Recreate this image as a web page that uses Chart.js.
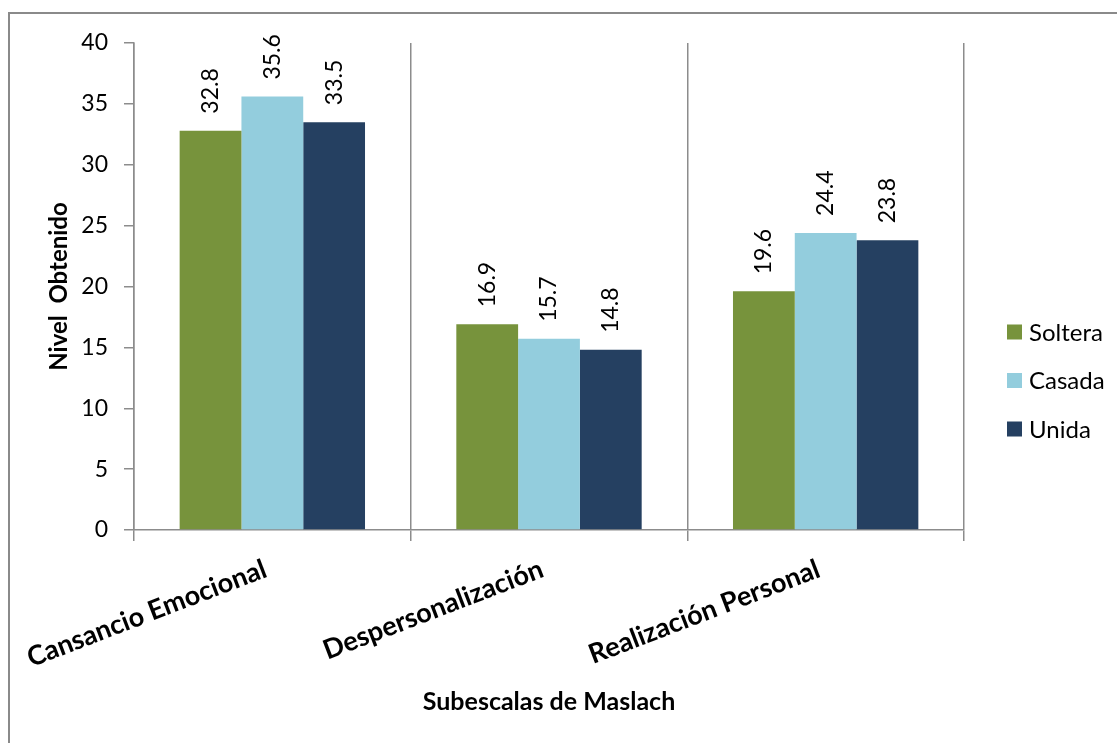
<!DOCTYPE html>
<html>
<head>
<meta charset="utf-8">
<title>Subescalas de Maslach</title>
<script src="https://cdn.jsdelivr.net/npm/chart.js@4.4.1/dist/chart.umd.min.js"></script>
<style>
  html, body { margin: 0; padding: 0; background: #fff; }
  #wrap { position: relative; width: 1117px; height: 743px; overflow: hidden; }
  /* chart frame: only the top and left edges fall inside the page */
  #frame {
    position: absolute; left: 8px; top: 12px; width: 1300px; height: 900px;
    border-left: 2px solid #8a8a8a; border-top: 2px solid #8a8a8a;
  }
  #chart { position: absolute; left: 0; top: 0; }
</style>
</head>
<body>
<div id="wrap">
  <div id="frame"></div>
  <canvas id="chart" width="1117" height="743"></canvas>
</div>
<script>
// Maslach subscale scores by marital status
const categories = ['Cansancio Emocional', 'Despersonalización', 'Realización Personal'];
const seriesNames = ['Soltera', 'Casada', 'Unida'];
const soltera = [32.8, 16.9, 19.6];
const casada = [35.6, 15.7, 24.4];
const unida = [33.5, 14.8, 23.8];
const seriesColors = ['#77933C', '#93CDDD', '#254061'];
const yMin = 0, yMax = 40, yStep = 5;

const AXIS_GRAY = '#8c8c8c';
const FONT = 'Lato';

// value labels, rotated, sitting just above each bar
const barLabels = {
  id: 'barLabels',
  afterDatasetsDraw(chart) {
    const ctx = chart.ctx;
    ctx.save();
    ctx.font = '23px ' + FONT;
    ctx.fillStyle = '#000';
    ctx.textAlign = 'left';
    ctx.textBaseline = 'middle';
    chart.data.datasets.forEach((ds, i) => {
      const meta = chart.getDatasetMeta(i);
      meta.data.forEach((bar, j) => {
        ctx.save();
        ctx.translate(bar.x, bar.y - 17);
        ctx.rotate(-Math.PI / 2);
        ctx.fillText(ds.data[j].toFixed(1), 0, 0);
        ctx.restore();
      });
    });
    ctx.restore();
  }
};

// legend stacked to the right of the plot
const sideLegend = {
  id: 'sideLegend',
  afterDraw(chart) {
    const ctx = chart.ctx;
    const x = chart.chartArea.right + 43;
    const top = 332, gap = 48.5, box = 15;
    ctx.save();
    ctx.font = '24px ' + FONT;
    ctx.textAlign = 'left';
    ctx.textBaseline = 'middle';
    chart.data.datasets.forEach((ds, i) => {
      const y = top + i * gap;
      ctx.fillStyle = ds.backgroundColor;
      ctx.fillRect(x, y - box / 2, box, box);
      ctx.fillStyle = '#000';
      ctx.fillText(ds.label, x + box + 7, y + 1);
    });
    ctx.restore();
  }
};

new Chart(document.getElementById('chart'), {
  type: 'bar',
  data: {
    labels: categories,
    datasets: [soltera, casada, unida].map((values, i) => ({
      label: seriesNames[i],
      data: values,
      backgroundColor: seriesColors[i],
      borderWidth: 0,
      barPercentage: 1,
      categoryPercentage: 0.67
    }))
  },
  options: {
    responsive: false,
    animation: false,
    layout: { padding: { left: 45, top: 43, right: 153, bottom: 0 } },
    plugins: {
      legend: { display: false },
      tooltip: { enabled: false }
    },
    scales: {
      x: {
        grid: { color: AXIS_GRAY, lineWidth: 1.5, offset: true, tickLength: 11, drawOnChartArea: true },
        border: { color: AXIS_GRAY, width: 1.5 },
        ticks: {
          color: '#000',
          font: { family: FONT, size: 27, weight: 'bold' },
          minRotation: 21,
          maxRotation: 21,
          padding: 12,
          labelOffset: -7
        },
        title: {
          display: true,
          text: 'Subescalas de Maslach',
          color: '#000',
          font: { family: FONT, size: 25, weight: 'bold' },
          padding: { top: 0, bottom: 26 }
        },
        afterFit(scale) { scale.height = 743 - 530; }
      },
      y: {
        min: yMin,
        max: yMax,
        grid: { color: AXIS_GRAY, lineWidth: 1.5, drawOnChartArea: false, tickLength: 10 },
        border: { color: AXIS_GRAY, width: 1.5 },
        ticks: {
          stepSize: yStep,
          color: '#000',
          font: { family: FONT, size: 23 },
          padding: 16
        },
        title: {
          display: true,
          text: 'Nivel  Obtenido',
          color: '#000',
          font: { family: FONT, size: 24, weight: 'bold' },
          padding: { top: 0, bottom: 0 }
        },
        afterFit(scale) { scale.width = 134 - 45; }
      }
    }
  },
  plugins: [barLabels, sideLegend]
});
</script>
</body>
</html>
